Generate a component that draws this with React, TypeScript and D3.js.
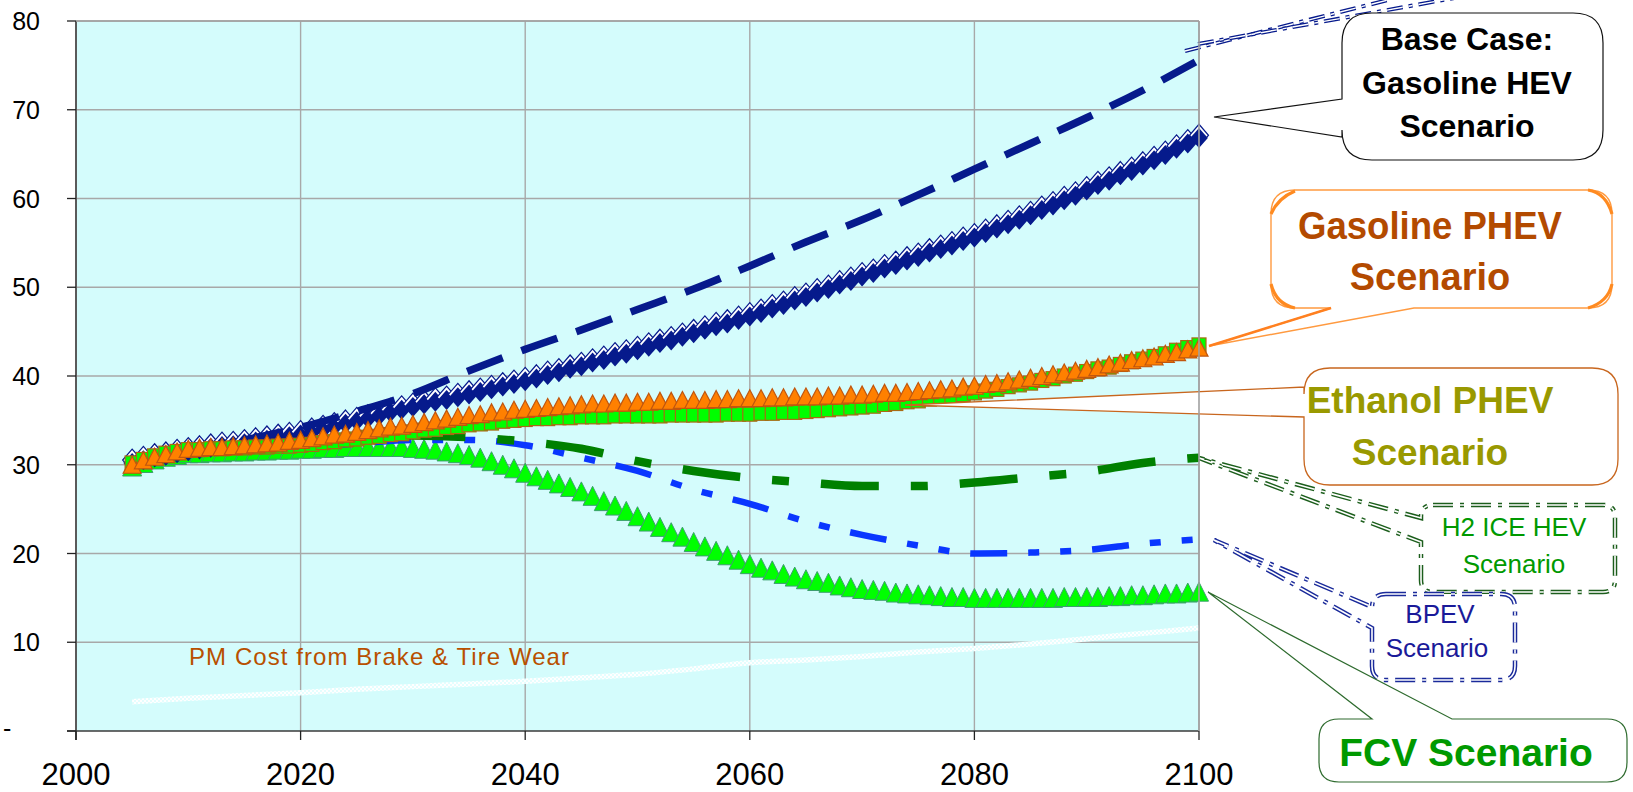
import React from "react";
import * as d3 from "d3";

// ---------- data ----------
const yearsAnnual: number[] = d3.range(2005, 2101);
const years5: number[] = d3.range(2005, 2101, 5);

const baseCaseHEV = [
  30.3, 30.6, 30.9, 31.1, 31.4, 31.6, 31.8, 32.0, 32.2, 32.3, 32.5,
  32.7, 32.9, 33.1, 33.3, 33.5, 33.8, 34.1, 34.4, 34.7, 35.0,
  35.3, 35.6, 36.0, 36.3, 36.6, 36.9, 37.2, 37.4, 37.7, 38.0,
  38.3, 38.6, 38.9, 39.2, 39.5, 39.8, 40.2, 40.5, 40.9, 41.2,
  41.6, 41.9, 42.3, 42.6, 43.0, 43.4, 43.8, 44.1, 44.5, 44.9,
  45.3, 45.7, 46.0, 46.4, 46.8, 47.2, 47.7, 48.1, 48.6, 49.0,
  49.5, 49.9, 50.4, 50.8, 51.3, 51.7, 52.2, 52.6, 53.1, 53.5,
  54.0, 54.4, 54.8, 55.3, 55.7, 56.2, 56.7, 57.2, 57.7, 58.2,
  58.8, 59.3, 59.9, 60.4, 61.0, 61.6, 62.1, 62.7, 63.2, 63.8,
  64.4, 65.0, 65.7, 66.3, 66.9,
];

const gasolinePHEV = [
  30.0, 30.5, 30.9, 31.2, 31.5, 31.8, 31.9, 32.0, 32.0, 32.1, 32.2,
  32.3, 32.4, 32.5, 32.7, 32.8, 33.0, 33.2, 33.4, 33.5, 33.7,
  33.9, 34.1, 34.3, 34.4, 34.6, 34.8, 35.0, 35.2, 35.4, 35.6,
  35.7, 35.9, 36.0, 36.2, 36.3, 36.4, 36.5, 36.6, 36.7, 36.8,
  36.9, 36.9, 37.0, 37.0, 37.1, 37.1, 37.2, 37.2, 37.3, 37.3,
  37.3, 37.4, 37.4, 37.5, 37.5, 37.5, 37.6, 37.6, 37.7, 37.7,
  37.7, 37.8, 37.8, 37.9, 37.9, 38.0, 38.1, 38.1, 38.2, 38.3,
  38.4, 38.5, 38.6, 38.8, 38.9, 39.1, 39.2, 39.4, 39.6, 39.8,
  40.0, 40.2, 40.4, 40.6, 40.8, 41.0, 41.3, 41.5, 41.8, 42.0,
  42.2, 42.5, 42.7, 43.0, 43.2,
];

const ethanolPHEV = [
  30.2, 30.6, 31.0, 31.3, 31.5, 31.7, 31.7, 31.8, 31.8, 31.9, 31.9,
  32.0, 32.0, 32.1, 32.1, 32.2, 32.3, 32.5, 32.6, 32.8, 32.9,
  33.1, 33.2, 33.4, 33.5, 33.7, 33.9, 34.0, 34.2, 34.3, 34.5,
  34.6, 34.7, 34.9, 35.0, 35.1, 35.2, 35.2, 35.3, 35.3, 35.4,
  35.4, 35.4, 35.5, 35.5, 35.5, 35.5, 35.5, 35.6, 35.6, 35.6,
  35.6, 35.6, 35.7, 35.7, 35.7, 35.8, 35.8, 35.9, 35.9, 36.0,
  36.1, 36.2, 36.3, 36.4, 36.5, 36.6, 36.8, 36.9, 37.1, 37.2,
  37.4, 37.6, 37.7, 37.9, 38.1, 38.3, 38.5, 38.8, 39.0, 39.2,
  39.5, 39.7, 40.0, 40.2, 40.5, 40.8, 41.0, 41.3, 41.6, 41.9,
  42.2, 42.5, 42.9, 43.2, 43.5,
];

const fcv = [
  29.8, 30.2, 30.6, 30.9, 31.1, 31.3, 31.3, 31.4, 31.4, 31.5, 31.5,
  31.6, 31.6, 31.7, 31.7, 31.8, 31.8, 31.9, 31.9, 32.0, 32.0,
  32.0, 32.0, 32.0, 32.0, 31.9, 31.8, 31.7, 31.5, 31.3, 31.1,
  30.8, 30.4, 30.0, 29.6, 29.1, 28.7, 28.3, 27.9, 27.5, 27.0,
  26.5, 25.9, 25.4, 24.8, 24.2, 23.6, 23.0, 22.4, 21.9, 21.3,
  20.8, 20.3, 19.8, 19.3, 18.8, 18.4, 18.1, 17.7, 17.4, 17.1,
  16.9, 16.7, 16.4, 16.2, 16.0, 15.9, 15.8, 15.6, 15.5, 15.4,
  15.3, 15.2, 15.1, 15.1, 15.0, 15.0, 15.0, 15.0, 15.0, 15.0,
  15.0, 15.0, 15.1, 15.1, 15.1, 15.1, 15.2, 15.2, 15.3, 15.3,
  15.4, 15.5, 15.5, 15.6, 15.7,
];

// 5-year series (lines)
const baseCaseUpper = [30.3, 31.5, 32.8, 34.2, 36.0, 38.0, 40.6, 43.0, 45.2, 47.5, 49.8, 52.4, 55.1, 57.6, 60.4, 63.3, 66.2, 69.1, 72.2, 75.6];
const h2IceHEV = [30.0, 31.7, 31.9, 32.2, 32.8, 33.3, 33.1, 32.6, 31.8, 30.4, 29.3, 28.5, 28.0, 27.6, 27.6, 28.0, 28.6, 29.2, 30.2, 30.8];
const bpev = [30.0, 31.5, 31.8, 32.0, 32.4, 32.8, 32.8, 32.2, 30.8, 29.3, 27.2, 25.6, 23.6, 22.1, 20.9, 20.0, 20.1, 20.4, 21.1, 21.6];
const pmBrakeTire = [3.3, 3.7, 4.0, 4.3, 4.7, 5.0, 5.3, 5.6, 6.0, 6.4, 7.0, 7.7, 8.0, 8.4, 8.9, 9.3, 9.8, 10.4, 11.0, 11.6];

const yTicks = [0, 10, 20, 30, 40, 50, 60, 70, 80];
const yTickLabels = ["-", "10", "20", "30", "40", "50", "60", "70", "80"];
const xTicks = [2000, 2020, 2040, 2060, 2080, 2100];
const xTickLabels = ["2000", "2020", "2040", "2060", "2080", "2100"];

const pmLabel = "PM Cost from Brake & Tire Wear";
const baseLabel = ["Base Case:", "Gasoline HEV", "Scenario"];
const gasLabel = ["Gasoline PHEV", "Scenario"];
const ethLabel = ["Ethanol PHEV", "Scenario"];
const h2Label = ["H2 ICE HEV", "Scenario"];
const bpevLabel = ["BPEV", "Scenario"];
const fcvLabel = "FCV Scenario";

// ---------- helpers ----------
const FONT = "'Liberation Sans', Arial, Helvetica, sans-serif";
const NAVY = "#061A8C";

function calloutPath(
  x0: number, y0: number, x1: number, y1: number, r: number,
  side: "left" | "bottom" | "top", a: number, b: number, tx: number, ty: number
) {
  let p = `M${x0 + r},${y0}`;
  if (side === "top") p += `L${a},${y0}L${tx},${ty}L${b},${y0}`;
  p += `L${x1 - r},${y0}Q${x1},${y0} ${x1},${y0 + r}L${x1},${y1 - r}Q${x1},${y1} ${x1 - r},${y1}`;
  if (side === "bottom") p += `L${b},${y1}L${tx},${ty}L${a},${y1}`;
  p += `L${x0 + r},${y1}Q${x0},${y1} ${x0},${y1 - r}`;
  if (side === "left") p += `L${x0},${b}L${tx},${ty}L${x0},${a}`;
  p += `L${x0},${y0 + r}Q${x0},${y0} ${x0 + r},${y0}Z`;
  return p;
}

const diamond = (w: number, h: number) => `M0,${-h}L${w},0L0,${h}L${-w},0Z`;
const triangle = (w: number, h: number) => `M0,${-h / 2}L${w / 2},${h / 2}L${-w / 2},${h / 2}Z`;

export default function App() {
  const x = d3.scaleLinear().domain([2000, 2100]).range([76, 1199]);
  const y = d3.scaleLinear().domain([0, 80]).range([731, 21]);

  const line5 = d3
    .line<number>()
    .x((_, i) => x(years5[i]))
    .y((d) => y(d))
    .curve(d3.curveMonotoneX);

  const pts = (vals: number[]) =>
    vals.slice(0, yearsAnnual.length).map((v, i) => [x(yearsAnnual[i]), y(v)] as [number, number]);

  const [xl, xr] = x.range();
  const [yb, yt] = y.range();

  return (
    <svg
      width={1633}
      height={792}
      style={{ position: "absolute", left: 0, top: 0, display: "block", background: "#fff" }}
      fontFamily={FONT}
    >
      <defs>
        <pattern id="chk" width={4} height={4} patternUnits="userSpaceOnUse">
          <rect x={0} y={0} width={4} height={4} fill="#E4FEFE" />
          <rect x={0} y={0} width={2} height={2} fill="#fff" />
          <rect x={2} y={2} width={2} height={2} fill="#fff" />
        </pattern>
      </defs>

      {/* plot background */}
      <rect x={xl} y={yt} width={xr - xl} height={yb - yt} fill="#D4FCFC" />

      {/* gridlines */}
      {yTicks.filter((t) => t > 0).map((t) => (
        <line key={"gy" + t} x1={xl} x2={xr} y1={y(t)} y2={y(t)} stroke="#A8A8A8" strokeWidth={1.4} />
      ))}
      {xTicks.filter((t) => t > 2000).map((t) => (
        <line key={"gx" + t} x1={x(t)} x2={x(t)} y1={yt} y2={yb} stroke="#A8A8A8" strokeWidth={1.4} />
      ))}

      {/* axes */}
      <line x1={xl} x2={xl} y1={yt} y2={yb + 9} stroke="#5A5A5A" strokeWidth={2} />
      <line x1={xl - 9} x2={xr} y1={yb} y2={yb} stroke="#3A3A3A" strokeWidth={1.6} />
      {yTicks.map((t) => (
        <line key={"ty" + t} x1={xl - 9} x2={xl} y1={y(t)} y2={y(t)} stroke="#222" strokeWidth={1.3} />
      ))}
      {xTicks.map((t) => (
        <line key={"tx" + t} x1={x(t)} x2={x(t)} y1={yb} y2={yb + 9} stroke="#222" strokeWidth={1.3} />
      ))}

      {/* tick labels */}
      {yTicks.map((t, i) =>
        t === 0 ? (
          <text key={"ly" + t} x={3} y={y(t) + 6} fontSize={25} fill="#000">
            {yTickLabels[i]}
          </text>
        ) : (
          <text key={"ly" + t} x={40} y={y(t) + 9} fontSize={25} fill="#000" textAnchor="end">
            {yTickLabels[i]}
          </text>
        )
      )}
      {xTicks.map((t, i) => (
        <text key={"lx" + t} x={x(t)} y={785} fontSize={31} fill="#000" textAnchor="middle">
          {xTickLabels[i]}
        </text>
      ))}

      {/* PM cost line */}
      <path d={line5(pmBrakeTire) || ""} fill="none" stroke="url(#chk)" strokeWidth={5.5} />

      {/* FCV triangles */}
      {pts(fcv).map(([px, py], i) => (
        <path key={"fcv" + i} d={triangle(19, 19)} transform={`translate(${px},${py})`} fill="#00FF00" stroke="#3C9E6E" strokeWidth={1} />
      ))}

      {/* BPEV dash-dot-dot */}
      <path d={line5(bpev) || ""} fill="none" stroke="#0A36FF" strokeWidth={6.5} strokeDasharray="37 21 11 21 11 21" />

      {/* H2 ICE HEV dash-dot */}
      <path d={line5(h2IceHEV) || ""} fill="none" stroke="#008000" strokeWidth={8.5} strokeDasharray="58 32 17 32" />

      {/* base case diamonds */}
      {pts(baseCaseHEV).map(([px, py], i) => (
        <g key={"bd" + i} transform={`translate(${px},${py})`}>
          <path d={diamond(9.5, 11)} transform="translate(0,-2)" fill="#fff" stroke={NAVY} strokeWidth={1.2} />
          <path d={diamond(8.8, 10)} transform="translate(0,0.8)" fill={NAVY} />
        </g>
      ))}

      {/* base case upper dashed */}
      <path d={line5(baseCaseUpper) || ""} fill="none" stroke={NAVY} strokeWidth={7.5} strokeDasharray="38 20" />

      {/* Ethanol PHEV squares */}
      {pts(ethanolPHEV).map(([px, py], i) => (
        <rect key={"eq" + i} x={px - 7} y={py - 7} width={14} height={14} fill="#00FF00" stroke="#A86A14" strokeWidth={1.2} />
      ))}

      {/* Gasoline PHEV triangles */}
      {pts(gasolinePHEV).map(([px, py], i) => (
        <path key={"gt" + i} d={triangle(18, 17)} transform={`translate(${px},${py})`} fill="#FF8000" stroke="#C0560E" strokeWidth={1.2} />
      ))}

      {/* PM label */}
      <text x={189} y={665} fontSize={24} fill="#B85000" textLength={380} lengthAdjust="spacing">
        {pmLabel}
      </text>

      {/* off-chart navy pointer */}
      <g>
        <line x1={1185} y1={51} x2={1392} y2={-1} stroke={NAVY} strokeWidth={4} strokeDasharray="16 6 4 6" />
        <line x1={1185} y1={51} x2={1392} y2={-1} stroke="#fff" strokeWidth={1.4} strokeDasharray="16 6 4 6" />
        <line x1={1198} y1={44} x2={1460} y2={-3} stroke={NAVY} strokeWidth={4} strokeDasharray="16 6 4 6" />
        <line x1={1198} y1={44} x2={1460} y2={-3} stroke="#fff" strokeWidth={1.4} strokeDasharray="16 6 4 6" />
      </g>

      {/* Base case callout */}
      <path d={calloutPath(1342, 13, 1603, 160, 30, "left", 99, 137, 1214, 117)} fill="#fff" stroke="#111" strokeWidth={1.2} />
      {baseLabel.map((s, i) => (
        <text key={"bl" + i} x={1467} y={50 + i * 43.5} fontSize={32} fontWeight="bold" fill="#000" textAnchor="middle">
          {s}
        </text>
      ))}

      {/* Gasoline PHEV callout */}
      <path d={calloutPath(1271, 190, 1612, 308, 24, "bottom", 1331, 1414, 1209, 346)} fill="#fff" stroke="#FF9A40" strokeWidth={1.4} />
      <line x1={1331} y1={308} x2={1209} y2={346} stroke="#FF8020" strokeWidth={2.6} />
      {[
        [1271, 214, 1278, 198, 1295, 191],
        [1588, 190, 1606, 193, 1612, 214],
        [1612, 284, 1608, 302, 1588, 308],
        [1295, 308, 1276, 304, 1271, 284],
      ].map((c, i) => (
        <path key={"gc" + i} d={`M${c[0]},${c[1]}Q${c[2]},${c[3]} ${c[4]},${c[5]}`} fill="none" stroke="#FF8A20" strokeWidth={3.2} />
      ))}
      <text x={1430} y={239} fontSize={38} fontWeight="bold" fill="#B34A00" textAnchor="middle" textLength={264} lengthAdjust="spacingAndGlyphs">
        {gasLabel[0]}
      </text>
      <text x={1430} y={290} fontSize={38} fontWeight="bold" fill="#B34A00" textAnchor="middle">
        {gasLabel[1]}
      </text>

      {/* Ethanol PHEV callout */}
      <path d={calloutPath(1304, 368, 1618, 485, 26, "left", 387, 417, 905, 405)} fill="#fff" stroke="#C8661E" strokeWidth={1.3} />
      {ethLabel.map((s, i) => (
        <text key={"el" + i} x={1430} y={413 + i * 52} fontSize={37} fontWeight="bold" fill="#999900" textAnchor="middle">
          {s}
        </text>
      ))}

      {/* H2 ICE HEV callout (dash-dot, hollow) */}
      {[
        { s: "#1C5E1C", w: 4.5 },
        { s: "#fff", w: 1.6 },
      ].map((st, i) => (
        <path
          key={"h2b" + i}
          d={calloutPath(1421, 505, 1615, 592, 12, "left", 518, 542, 1199, 458)}
          fill={i === 0 ? "#fff" : "none"}
          stroke={st.s}
          strokeWidth={st.w}
          strokeDasharray="20 7 4 7"
        />
      ))}
      {h2Label.map((s, i) => (
        <text key={"hl" + i} x={1514} y={536 + i * 37} fontSize={26} fill="#009900" textAnchor="middle">
          {s}
        </text>
      ))}

      {/* BPEV callout (dash-dot, hollow) */}
      {[
        { s: "#1A2A9A", w: 4.5 },
        { s: "#fff", w: 1.6 },
      ].map((st, i) => (
        <path
          key={"bpb" + i}
          d={calloutPath(1372, 594, 1515, 680, 14, "left", 607, 628, 1214, 540)}
          fill={i === 0 ? "#fff" : "none"}
          stroke={st.s}
          strokeWidth={st.w}
          strokeDasharray="20 7 4 7"
        />
      ))}
      {bpevLabel.map((s, i) => (
        <text key={"bpl" + i} x={i === 0 ? 1440 : 1437} y={623 + i * 34} fontSize={26} fill="#1A1A99" textAnchor="middle">
          {s}
        </text>
      ))}

      {/* FCV callout */}
      <path d={calloutPath(1319, 719, 1627, 782, 20, "top", 1372, 1452, 1208, 592)} fill="#fff" stroke="#2E6B2E" strokeWidth={1.2} />
      <text x={1466} y={766} fontSize={39} fontWeight="bold" fill="#009900" textAnchor="middle">
        {fcvLabel}
      </text>

      {/* plot border top/right */}
      <line x1={xl} x2={xr} y1={yt} y2={yt} stroke="#A0A0A0" strokeWidth={1.4} />
      <line x1={xr} x2={xr} y1={yt} y2={yb} stroke="#A0A0A0" strokeWidth={1.6} />
    </svg>
  );
}
